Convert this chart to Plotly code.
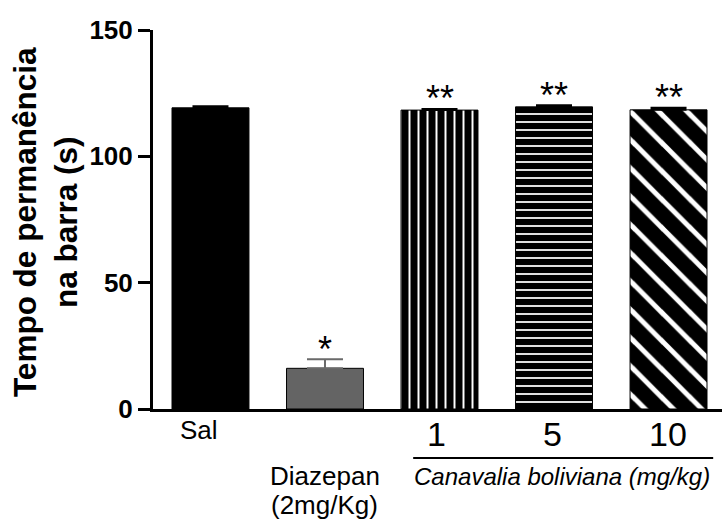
import plotly.graph_objects as go

# ---- data ----
groups = ["Sal", "Diazepan (2mg/Kg)", "1", "5", "10"]
means = [119.2, 16.1, 118.3, 119.6, 118.4]
sems = [0.6, 3.6, 0.4, 0.6, 0.8]
sig_marks = ["", "*", "**", "**", "**"]
axis_labels = ["Sal", "Diazepan", "1", "5", "10"]
axis_sublabels = ["", "(2mg/Kg)", "", "", ""]
y_ticks = [0, 50, 100, 150]

# ---- styles ----
fill_colors = ["#000000", "#646464", "#000000", "#000000", "#000000"]
err_colors = ["#000000", "#6a6a6a", "#000000", "#000000", "#000000"]
pattern_shapes = ["", "", "|", "-", "\\"]
pattern_sizes = [8, 8, 9, 8, 20]
pattern_solid = [0.2, 0.2, 0.22, 0.22, 0.25]
FONT = "Arial, 'Liberation Sans', sans-serif"

fig = go.Figure()
xs = list(range(len(groups)))
for i, g in enumerate(groups):
    marker = dict(color=fill_colors[i], line=dict(color="#000000", width=1))
    if pattern_shapes[i]:
        marker["pattern"] = dict(shape=pattern_shapes[i], fgcolor="#ffffff",
                                 bgcolor="#000000", size=pattern_sizes[i],
                                 solidity=pattern_solid[i], fillmode="replace")
    fig.add_trace(go.Bar(
        x=[xs[i]], y=[means[i]], width=0.672, name=g, marker=marker,
        error_y=dict(type="data", symmetric=False, array=[sems[i]], arrayminus=[0],
                     color=err_colors[i], thickness=2, width=18),
        showlegend=False,
    ))

# significance marks
for i, s in enumerate(sig_marks):
    if s:
        fig.add_annotation(x=xs[i], y=means[i] + sems[i] + 6, xref="x", yref="y",
                           text=s, showarrow=False, yanchor="middle", yshift=-5,
                           font=dict(family=FONT, size=36, color="#000000"))

# x category labels
label_sizes = [26, 26, 34, 34, 34]
label_y = [-0.0554, -0.176, -0.066, -0.066, -0.066]
label_shift = [-11, 0, -3, -2, -1]
for i, t in enumerate(axis_labels):
    fig.add_annotation(x=xs[i], y=label_y[i], xref="x", yref="paper", text=t,
                       showarrow=False, xanchor="center", yanchor="middle",
                       xshift=label_shift[i],
                       font=dict(family=FONT, size=label_sizes[i], color="#000000"))
    if axis_sublabels[i]:
        fig.add_annotation(x=xs[i], y=label_y[i], xref="x", yref="paper",
                           text=axis_sublabels[i], showarrow=False, xanchor="center",
                           yanchor="middle", yshift=-29,
                           font=dict(family=FONT, size=label_sizes[i], color="#000000"))

# Canavalia group bracket and label
fig.add_shape(type="line", xref="x", yref="paper", x0=xs[2] - 0.23, x1=xs[4] + 0.39,
              y0=-0.129, y1=-0.129, line=dict(color="#000000", width=2))
fig.add_annotation(x=(xs[2] + xs[4]) / 2 + 0.07, y=-0.179, xref="x", yref="paper",
                   text="<i>Canavalia boliviana (mg/kg)</i>", showarrow=False,
                   xanchor="center", yanchor="middle",
                   font=dict(family=FONT, size=24, color="#000000"))

# y-axis title
fig.add_annotation(x=-0.19, y=0.493, xref="paper", yref="paper",
                   text="<b>Tempo de permanência<br>na barra (s)</b>", showarrow=False,
                   textangle=-90, xanchor="center", yanchor="middle",
                   font=dict(family=FONT, size=31.5, color="#000000"))

fig.update_layout(
    width=722, height=520,
    margin=dict(l=153, r=0, t=30, b=111),
    paper_bgcolor="#ffffff", plot_bgcolor="#ffffff",
    bargap=0.3,
    xaxis=dict(range=[-0.502, 4.467], showticklabels=False, ticks="",
               showline=True, linecolor="#000000", linewidth=3,
               showgrid=False, zeroline=False, fixedrange=True),
    yaxis=dict(range=[0, 150], tickvals=y_ticks, ticks="outside", ticklen=12,
               tickwidth=3, tickcolor="#000000", showline=True, linecolor="#000000",
               linewidth=3, showgrid=False, zeroline=False,
               tickfont=dict(family=FONT, size=26, color="#000000", weight="bold")),
)

fig.write_html("out.html")
